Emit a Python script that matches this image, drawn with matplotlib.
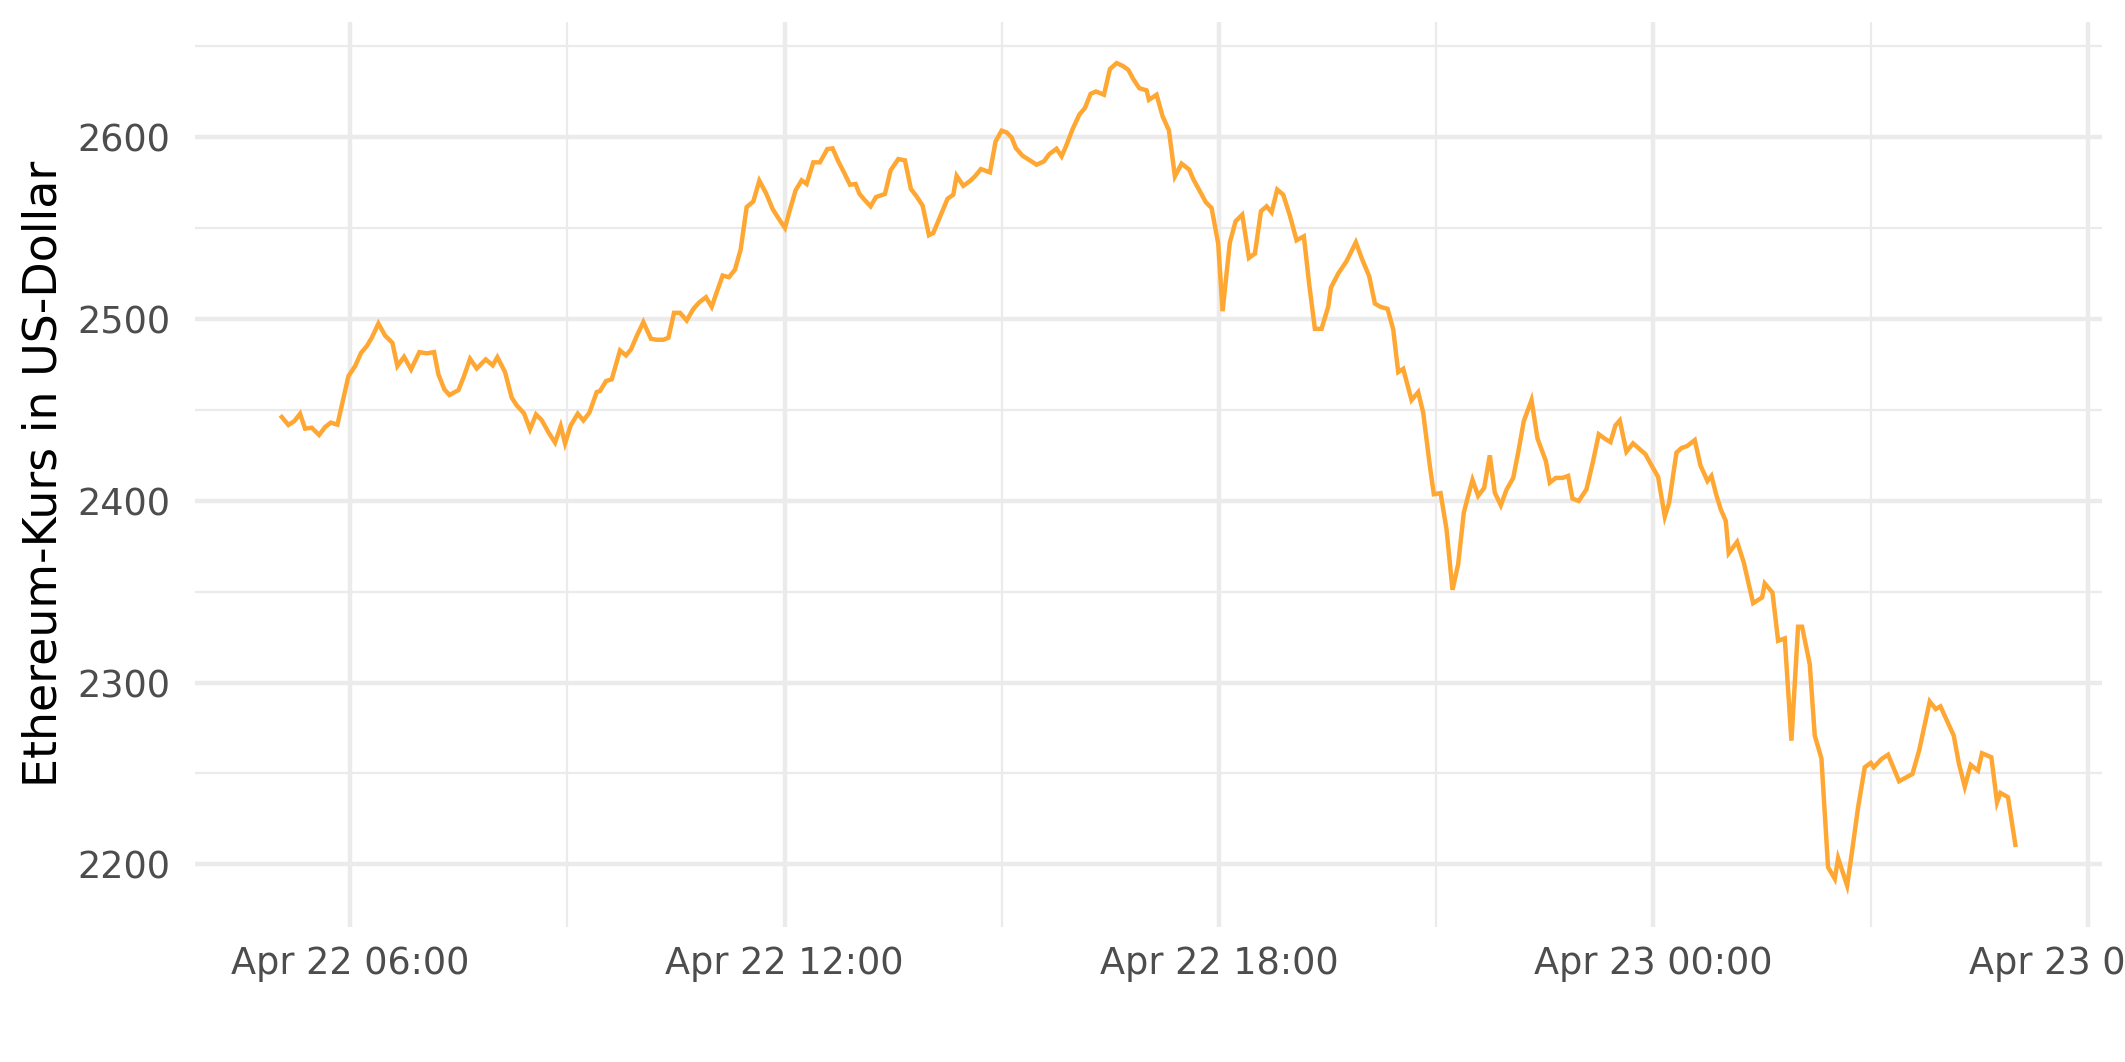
import matplotlib
matplotlib.use("Agg")
import matplotlib.pyplot as plt
import matplotlib.dates as mdates
import pandas as pd
import numpy as np

# hours since 2021-04-22 00:00
hours = [
    5.056, 5.148, 5.231, 5.309, 5.378, 5.470, 5.572, 5.655, 5.733, 5.825,
    5.977, 6.069, 6.152, 6.230, 6.299, 6.391, 6.483, 6.584, 6.653, 6.745,
    6.842, 6.957, 7.058, 7.160, 7.220, 7.302, 7.372, 7.496, 7.565, 7.657,
    7.749, 7.873, 7.970, 8.034, 8.140, 8.232, 8.301, 8.402, 8.485, 8.568,
    8.646, 8.748, 8.831, 8.909, 8.969, 9.047, 9.144, 9.222, 9.305, 9.406,
    9.452, 9.535, 9.613, 9.728, 9.811, 9.880, 9.958, 10.050, 10.156, 10.234,
    10.327, 10.396, 10.474, 10.557, 10.649, 10.741, 10.823, 10.915, 10.994, 11.063,
    11.145, 11.233, 11.316, 11.394, 11.477, 11.569, 11.652, 11.744, 11.836, 11.928,
    12.006, 12.075, 12.153, 12.236, 12.305, 12.397, 12.489, 12.591, 12.664, 12.743,
    12.821, 12.904, 12.982, 13.033, 13.102, 13.189, 13.263, 13.387, 13.465, 13.571,
    13.663, 13.746, 13.824, 13.907, 13.995, 14.054, 14.146, 14.252, 14.331, 14.377,
    14.469, 14.561, 14.630, 14.713, 14.837, 14.915, 14.998, 15.067, 15.136, 15.196,
    15.288, 15.389, 15.481, 15.582, 15.656, 15.757, 15.827, 15.896, 15.979, 16.071,
    16.149, 16.228, 16.301, 16.412, 16.494, 16.587, 16.669, 16.748, 16.817, 16.900,
    17.001, 17.033, 17.139, 17.222, 17.309, 17.392, 17.484, 17.590, 17.645, 17.737,
    17.820, 17.898, 17.990, 18.050, 18.151, 18.230, 18.322, 18.414, 18.497, 18.580,
    18.658, 18.727, 18.805, 18.888, 18.980, 19.072, 19.173, 19.247, 19.325, 19.417,
    19.509, 19.546, 19.647, 19.762, 19.891, 19.979, 20.075, 20.154, 20.232, 20.329,
    20.407, 20.476, 20.545, 20.660, 20.752, 20.821, 20.867, 20.913, 20.968, 21.061,
    21.143, 21.226, 21.304, 21.382, 21.442, 21.502, 21.580, 21.663, 21.741, 21.810,
    21.893, 21.971, 22.064, 22.133, 22.211, 22.317, 22.400, 22.515, 22.570, 22.653,
    22.745, 22.823, 22.883, 22.970, 23.076, 23.168, 23.246, 23.329, 23.408, 23.477,
    23.536, 23.628, 23.720, 23.813, 23.891, 23.974, 24.066, 24.158, 24.218, 24.319,
    24.388, 24.466, 24.572, 24.650, 24.747, 24.802, 24.871, 24.931, 25.000, 25.041,
    25.157, 25.249, 25.378, 25.502, 25.539, 25.645, 25.723, 25.815, 25.907, 25.999,
    26.054, 26.160, 26.229, 26.321, 26.413, 26.506, 26.552, 26.676, 26.736, 26.828,
    26.920, 27.003, 27.044, 27.150, 27.242, 27.394, 27.578, 27.670, 27.817, 27.900,
    27.965, 28.149, 28.218, 28.301, 28.383, 28.484, 28.539, 28.668, 28.747, 28.793,
    28.898, 29.000,
]

prices = [
    2446.1, 2441.7, 2443.9, 2447.9, 2439.7, 2440.2, 2436.2, 2440.6, 2443.0, 2441.9,
    2468.6, 2474.1, 2481.4, 2485.1, 2489.7, 2497.5, 2490.9, 2486.9, 2474.1, 2479.2,
    2472.3, 2481.8, 2481.1, 2481.8, 2469.5, 2461.3, 2458.2, 2460.9, 2467.7, 2478.1,
    2472.8, 2477.8, 2474.5, 2479.0, 2470.8, 2456.7, 2452.5, 2448.1, 2439.3, 2447.5,
    2444.4, 2437.1, 2432.0, 2441.1, 2431.6, 2441.5, 2447.9, 2444.2, 2448.5, 2459.8,
    2460.4, 2465.9, 2466.8, 2482.7, 2480.0, 2483.3, 2490.6, 2498.3, 2489.1, 2488.6,
    2488.6, 2489.7, 2503.4, 2503.4, 2499.2, 2505.6, 2509.2, 2512.0, 2506.7, 2514.7,
    2523.9, 2523.0, 2527.2, 2538.2, 2561.6, 2564.7, 2576.1, 2569.3, 2560.5, 2554.7,
    2550.1, 2560.2, 2570.8, 2576.3, 2574.3, 2586.2, 2586.2, 2593.5, 2593.9, 2586.7,
    2580.7, 2573.9, 2574.3, 2569.0, 2565.7, 2562.0, 2567.1, 2568.8, 2581.8, 2588.0,
    2587.3, 2571.5, 2567.5, 2562.4, 2546.1, 2547.3, 2556.1, 2566.2, 2568.4, 2578.8,
    2573.3, 2575.9, 2578.5, 2582.5, 2580.7, 2597.7, 2603.6, 2602.7, 2599.9, 2594.0,
    2589.8, 2587.3, 2584.9, 2586.7, 2590.7, 2593.7, 2589.5, 2595.9, 2604.5, 2612.4,
    2616.1, 2623.9, 2625.2, 2623.4, 2637.5, 2640.8, 2639.3, 2637.1, 2632.0, 2627.0,
    2625.8, 2620.6, 2623.4, 2611.5, 2603.8, 2578.5, 2585.5, 2582.2, 2577.0, 2570.3,
    2564.2, 2561.1, 2541.5, 2504.3, 2542.2, 2553.8, 2557.4, 2533.6, 2536.0, 2559.3,
    2562.0, 2558.7, 2571.2, 2568.4, 2556.9, 2543.3, 2545.5, 2519.0, 2494.6, 2494.6,
    2506.7, 2517.2, 2525.0, 2531.8, 2542.2, 2532.7, 2523.6, 2508.5, 2506.7, 2505.6,
    2494.3, 2470.8, 2472.6, 2455.4, 2459.8, 2448.5, 2433.8, 2419.2, 2403.6, 2404.2,
    2384.4, 2351.0, 2365.1, 2393.5, 2402.7, 2411.5, 2402.7, 2407.1, 2425.0, 2404.5,
    2397.5, 2406.0, 2412.6, 2426.5, 2443.9, 2455.4, 2434.2, 2421.9, 2410.0, 2412.6,
    2412.6, 2413.7, 2401.2, 2399.9, 2406.3, 2421.9, 2436.6, 2434.2, 2432.3, 2441.5,
    2444.2, 2427.0, 2431.6, 2428.3, 2425.6, 2419.5, 2413.1, 2391.3, 2399.0, 2426.5,
    2429.0, 2430.1, 2433.4, 2419.5, 2410.9, 2413.7, 2403.0, 2395.3, 2388.9, 2371.2,
    2377.4, 2366.0, 2343.7, 2346.8, 2354.5, 2349.5, 2323.0, 2324.3, 2268.0, 2330.7,
    2330.7, 2310.1, 2270.8, 2258.3, 2198.4, 2192.0, 2203.4, 2188.3, 2204.8, 2231.4,
    2253.4, 2255.8, 2253.4, 2257.9, 2260.3, 2245.7, 2249.7, 2262.5, 2289.6, 2285.4,
    2286.9, 2270.8, 2255.8, 2242.7, 2254.7, 2251.5, 2261.1, 2258.9, 2234.1, 2239.3,
    2236.9, 2210.7,
]

y_label = "Ethereum-Kurs in US-Dollar"
y_ticks = [2200, 2300, 2400, 2500, 2600]

base = pd.Timestamp("2021-04-22 00:00")
times = base + pd.to_timedelta(np.array(hours), unit="h")
tnum = mdates.date2num(times.to_pydatetime())

fig = plt.figure(figsize=(2125 / 300, 1062 / 300), dpi=300)
ax = fig.add_axes([0.0918, 0.1274, 0.9892 - 0.0918, 0.9793 - 0.1274])

ax.plot(tnum, prices, color="#FFA733", linewidth=1.07, solid_joinstyle="miter", zorder=3)

# ggplot-like 5% expansion
xr = tnum.max() - tnum.min()
yr = max(prices) - min(prices)
ax.set_xlim(tnum.min() - 0.05 * xr, tnum.max() + 0.05 * xr)
ax.set_ylim(min(prices) - 0.05 * yr, max(prices) + 0.05 * yr)

ax.xaxis.set_major_locator(mdates.HourLocator(byhour=[0, 6, 12, 18]))
ax.xaxis.set_minor_locator(mdates.HourLocator(byhour=[3, 9, 15, 21]))
ax.xaxis.set_major_formatter(mdates.DateFormatter("%b %d %H:%M"))
ax.set_yticks(y_ticks)
ax.set_yticks([2250, 2350, 2450, 2550, 2650], minor=True)

for s in ax.spines.values():
    s.set_visible(False)
ax.grid(which="major", color="#EBEBEB", linewidth=1.07)
ax.grid(which="minor", color="#EBEBEB", linewidth=0.53)
ax.set_axisbelow(True)
ax.tick_params(which="both", length=0)
ax.tick_params(axis="x", which="major", labelsize=8.8, labelcolor="#4D4D4D", pad=4.5)
ax.tick_params(axis="y", which="major", labelsize=8.8, labelcolor="#4D4D4D", pad=6)
ax.set_ylabel(y_label, fontsize=11, color="black", labelpad=2.6)

fig.savefig("out.png", dpi=300, facecolor="white")
